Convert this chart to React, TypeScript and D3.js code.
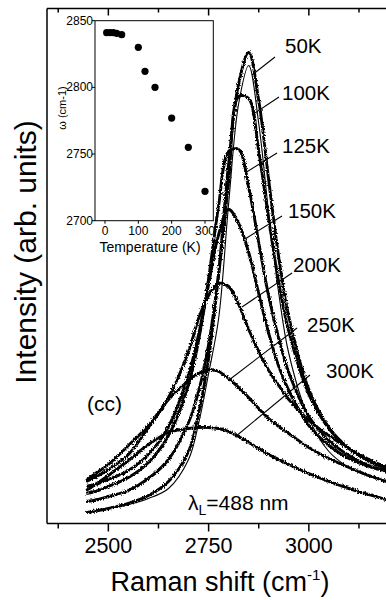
import React from "react";
import * as d3 from "d3";

// ---- Main spectra data (Raman shift in cm^-1, intensity in arb. units) ----
const ramanShift = [2445, 2475, 2500, 2550, 2600, 2650, 2700, 2725, 2750, 2775, 2800, 2825, 2850, 2875, 2900, 2925, 2950, 3000, 3050, 3100, 3150, 3200];
const intensity50K = [11, 13, 15, 20, 28, 42, 72, 110, 165, 250, 360, 440, 471, 423, 343, 266, 207, 134, 96, 75, 62, 54];
const intensity100K = [22, 24, 27, 33, 45, 64, 101, 132, 179, 249, 342, 427, 425, 372, 304, 241, 192, 129, 95, 75, 63, 55];
const intensity125K = [30, 33, 37, 46, 61, 88, 139, 183, 245, 318, 372, 374, 336, 281, 227, 185, 151, 107, 83, 68, 58, 52];
const intensity150K = [37, 40, 44, 53, 69, 97, 149, 189, 239, 289, 314, 300, 271, 230, 190, 157, 133, 98, 78, 65, 57, 52];
const intensity200K = [42, 48, 54, 69, 96, 126, 172, 205, 228, 240, 237, 219, 194, 172, 153, 138, 124, 103, 88, 75, 64, 55];
const intensity250K = [43, 52, 59, 78, 98, 124, 143, 150, 154, 152, 145, 136, 126, 115, 105, 97, 90, 76, 65, 56, 48, 41];
const intensity300K = [33, 41, 48, 63, 79, 91, 95, 96, 96, 95, 92, 87, 81, 75, 69, 64, 59, 50, 42, 35, 29, 23];
const fit50K = [11, 13, 15, 19, 25, 35, 64, 100, 150, 205, 320, 420, 458, 400, 310, 230, 170, 105, 72, 56, 47, 42];

const temperatureLabels = ["50K", "100K", "125K", "150K", "200K", "250K", "300K"];
const xTicksLabeled = [2500, 2750, 3000];
const xTicksMajor = [2500, 2750, 3000, 3250];
const xTicksMinor = [2375, 2625, 2875, 3125];

// ---- Inset data ----
const insetTemperature = [5, 15, 25, 35, 50, 100, 120, 150, 200, 250, 300];
const insetOmega = [2841, 2841, 2841, 2840.5, 2839.5, 2830, 2812, 2800, 2777, 2755, 2722];
const insetXTicks = [0, 100, 200, 300];
const insetYTicks = [2700, 2750, 2800, 2850];

const FONT = "'Liberation Sans', Arial, Helvetica, sans-serif";

export default function App() {
  const W = 386;
  const H = 600;
  const left = 47;
  const top = 8.5;
  const bottom = 523.5;

  const x = d3.scaleLinear().domain([2347, 3250]).range([left, left + 903 * 0.401]);
  const y = d3.scaleLinear().domain([0, 515]).range([bottom, top]);

  const series = [intensity50K, intensity100K, intensity125K, intensity150K, intensity200K, intensity250K, intensity300K];

  const line = d3
    .line<number>()
    .x((_, i) => x(ramanShift[i]))
    .y((d) => y(d))
    .curve(d3.curveCatmullRom.alpha(0.5));

  // Label/leader layout (annotation positions in px)
  const labelLayout = [
    { tx: 285, ty: 53, x1: 275, y1: 57, x2: 252, y2: 75 },
    { tx: 282, ty: 100, x1: 279, y1: 97, x2: 252, y2: 115 },
    { tx: 282, ty: 153, x1: 277, y1: 153, x2: 245, y2: 173 },
    { tx: 288, ty: 218, x1: 282, y1: 216, x2: 245, y2: 239 },
    { tx: 293, ty: 272, x1: 292, y1: 273, x2: 242, y2: 307 },
    { tx: 307, ty: 332, x1: 297, y1: 328, x2: 229, y2: 380 },
    { tx: 326, ty: 378, x1: 310, y1: 375, x2: 235, y2: 437 },
  ];

  // Inset scales
  const ix = d3.scaleLinear().domain([0, 300]).range([105, 205]);
  const iy = d3.scaleLinear().domain([2700, 2850]).range([220.7, 20.7]);
  const insetL = 95;
  const insetR = 213.3;

  const rightEdge = x(3250);

  return (
    <svg
      width={W}
      height={H}
      style={{ position: "absolute", left: 0, top: 0, background: "#fff" }}
      fontFamily={FONT}
    >
      <defs>
        <filter id="noisy" x="-5%" y="-5%" width="110%" height="110%">
          <feTurbulence type="fractalNoise" baseFrequency="1.1 0.6" numOctaves="1" seed="4" result="t" />
          <feDisplacementMap in="SourceGraphic" in2="t" scale="4" xChannelSelector="R" yChannelSelector="G" />
        </filter>
      </defs>
      <rect x={0} y={0} width={W} height={H} fill="#fff" />

      {/* spectra */}
      <g filter="url(#noisy)">
        {series.map((s, i) => (
          <path key={i} d={line(s) || ""} fill="none" stroke="#000" strokeWidth={2.9} strokeLinejoin="round" />
        ))}
      </g>
      <path d={line(fit50K) || ""} fill="none" stroke="#000" strokeWidth={1.1} />

      {/* leaders + labels */}
      {labelLayout.map((l, i) => (
        <g key={i}>
          <line x1={l.x1} y1={l.y1} x2={l.x2} y2={l.y2} stroke="#000" strokeWidth={1.1} />
          <text x={l.tx} y={l.ty} fontSize={20.5} fill="#000">
            {temperatureLabels[i]}
          </text>
        </g>
      ))}

      <text x={87} y={411} fontSize={21} fill="#000">(cc)</text>
      <text x={188} y={510} fontSize={21} fill="#000">
        λ<tspan fontSize={14} dy={5}>L</tspan>
        <tspan dy={-5}>=488 nm</tspan>
      </text>

      {/* main frame */}
      <line x1={left} y1={top} x2={left} y2={bottom} stroke="#000" strokeWidth={1.5} />
      <line x1={left} y1={bottom} x2={rightEdge} y2={bottom} stroke="#000" strokeWidth={1.5} />
      <line x1={left} y1={top} x2={rightEdge} y2={top} stroke="#000" strokeWidth={1.5} />
      {xTicksMajor.map((t) => (
        <g key={"M" + t}>
          <line x1={x(t)} x2={x(t)} y1={bottom} y2={bottom + 8} stroke="#000" strokeWidth={1.5} />
          <line x1={x(t)} x2={x(t)} y1={top} y2={top + 7} stroke="#000" strokeWidth={1.5} />
        </g>
      ))}
      {xTicksLabeled.map((t) => (
        <text key={"L" + t} x={x(t)} y={553} fontSize={21.5} textAnchor="middle" fill="#000">
          {t}
        </text>
      ))}
      {xTicksMinor.map((t) => (
        <g key={"m" + t}>
          <line x1={x(t)} x2={x(t)} y1={bottom} y2={bottom + 5} stroke="#000" strokeWidth={1.5} />
          <line x1={x(t)} x2={x(t)} y1={top} y2={top + 4} stroke="#000" strokeWidth={1.5} />
        </g>
      ))}

      <text x={220} y={591} fontSize={27} textAnchor="middle" fill="#000">
        Raman shift (cm<tspan fontSize={15} dy={-11}>-1</tspan>
        <tspan dy={11}>)</tspan>
      </text>
      <text
        transform={`translate(36,252) rotate(-90)`}
        fontSize={30}
        textAnchor="middle"
        fill="#000"
      >
        Intensity (arb. units)
      </text>

      {/* inset */}
      <rect x={insetL} y={iy(2850)} width={insetR - insetL} height={iy(2700) - iy(2850)} fill="none" stroke="#000" strokeWidth={1} />
      {insetYTicks.map((t) => (
        <g key={"iy" + t}>
          <line x1={insetL - 3} x2={insetL} y1={iy(t)} y2={iy(t)} stroke="#000" strokeWidth={1} />
          <text x={insetL - 2} y={iy(t) + 4} fontSize={12} textAnchor="end" fill="#000">
            {t}
          </text>
        </g>
      ))}
      {insetXTicks.map((t) => (
        <g key={"ix" + t}>
          <line x1={ix(t)} x2={ix(t)} y1={iy(2700)} y2={iy(2700) + 3} stroke="#000" strokeWidth={1} />
          <text x={ix(t)} y={235} fontSize={12} textAnchor="middle" fill="#000">
            {t}
          </text>
        </g>
      ))}
      {insetTemperature.map((t, i) => (
        <circle key={"p" + i} cx={ix(t)} cy={iy(insetOmega[i])} r={3.6} fill="#000" />
      ))}
      <text x={150} y={252} fontSize={14} textAnchor="middle" fill="#000">
        Temperature (K)
      </text>
      <text transform={`translate(66,108) rotate(-90)`} fontSize={11} textAnchor="middle" fill="#000">
        ω (cm-1)
      </text>
    </svg>
  );
}
